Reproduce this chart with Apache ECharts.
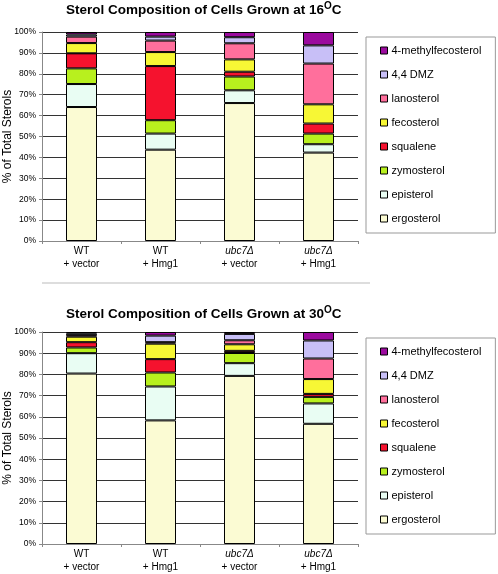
<!DOCTYPE html>
<html>
<head>
<meta charset="utf-8">
<script src="https://cdn.jsdelivr.net/npm/echarts@6/dist/echarts.min.js"></script>
<style>
html,body{margin:0;padding:0;background:#fff;}
#chart{width:498px;height:574px;}
</style>
</head>
<body>
<div id="chart"></div>
<script>
// Categories
var categories = ['WT\n+ vector', 'WT\n+ Hmg1', 'ubc7\u0394\n+ vector', 'ubc7\u0394\n+ Hmg1'];
// Components (stack order bottom -> top)
var components = ['ergosterol', 'episterol', 'zymosterol', 'squalene', 'fecosterol', 'lanosterol', '4,4 DMZ', '4-methylfecosterol'];
var yTicks = [0, 10, 20, 30, 40, 50, 60, 70, 80, 90, 100];

// 16 °C values (% of total sterols)
var ergosterol16 = [64.1, 43.7, 66.0, 42.3];
var episterol16 = [11.0, 7.7, 6.1, 4.0];
var zymosterol16 = [7.5, 6.4, 6.6, 5.1];
var squalene16 = [7.2, 25.9, 2.3, 4.8];
var fecosterol16 = [4.9, 6.7, 5.9, 9.2];
var lanosterol16 = [3.1, 5.5, 7.7, 19.5];
var dmz16 = [1.0, 1.9, 2.9, 8.7];
var methylfecosterol16 = [1.2, 2.2, 2.5, 6.4];

// 30 °C values (% of total sterols)
var ergosterol30 = [80.4, 58.3, 79.3, 56.7];
var episterol30 = [9.6, 16.0, 6.0, 9.6];
var zymosterol30 = [2.7, 6.6, 4.8, 3.1];
var squalene30 = [2.5, 6.3, 1.0, 1.4];
var fecosterol30 = [2.6, 7.3, 3.1, 7.0];
var lanosterol30 = [0.7, 0.7, 1.9, 9.7];
var dmz30 = [0.9, 3.1, 3.0, 8.5];
var methylfecosterol30 = [0.6, 1.7, 0.9, 4.0];

var values16 = [ergosterol16, episterol16, zymosterol16, squalene16, fecosterol16, lanosterol16, dmz16, methylfecosterol16];
var values30 = [ergosterol30, episterol30, zymosterol30, squalene30, fecosterol30, lanosterol30, dmz30, methylfecosterol30];

var colors = ['#FBFBD3', '#E9FDF3', '#B8F01E', '#F5122E', '#F7F735', '#FF6F9C', '#C8BFF7', '#9B0A9E'];
var FONT = 'Liberation Sans, Arial, sans-serif';

var chart = echarts.init(document.getElementById('chart'), null, {renderer: 'canvas'});

function xAxisDef(gi) {
  return {
    type: 'category', gridIndex: gi, data: categories,
    axisLine: {lineStyle: {color: '#888', width: 1}},
    axisTick: {show: true, length: 3, lineStyle: {color: '#888'}},
    axisLabel: {
      margin: 4, color: '#000', fontFamily: FONT, fontSize: 10,
      formatter: function (v) {
        var p = v.split('\n');
        var first = p[0].indexOf('ubc7') === 0 ? '{i|' + p[0] + '}' : '{n|' + p[0] + '}';
        return first + '\n{n|' + p[1] + '}';
      },
      rich: {
        n: {fontSize: 10, fontFamily: FONT, color: '#000', lineHeight: 13},
        i: {fontSize: 10, fontFamily: FONT, fontStyle: 'italic', color: '#000', lineHeight: 13}
      }
    }
  };
}
function yAxisDef(gi) {
  return {
    type: 'value', gridIndex: gi, min: yTicks[0], max: yTicks[yTicks.length - 1], interval: 10,
    name: '% of Total Sterols', nameLocation: 'middle', nameGap: 28, nameMoveOverlap: false,
    nameTextStyle: {fontSize: 12, fontFamily: FONT, color: '#000'},
    axisLine: {show: true, lineStyle: {color: '#888', width: 1}},
    axisTick: {show: true, length: 3, lineStyle: {color: '#888'}},
    axisLabel: {formatter: '{value}%', fontSize: 8.5, fontFamily: FONT, color: '#000', margin: 6},
    splitLine: {show: true, lineStyle: {color: '#333', width: 1}}
  };
}

var series = [];
[values16, values30].forEach(function (vals, gi) {
  components.forEach(function (name, k) {
    series.push({
      name: name, type: 'bar', stack: 'g' + gi, xAxisIndex: gi, yAxisIndex: gi,
      barWidth: 31, data: vals[k],
      itemStyle: {color: colors[k], borderColor: '#000', borderWidth: 1},
      emphasis: {disabled: true}
    });
  });
});

var legendOrder = components.slice().reverse();
function legendDef(top) {
  return {
    data: legendOrder, orient: 'vertical', left: 366, top: top,
    padding: [8, 14, 9, 14], itemGap: 13, itemWidth: 7, itemHeight: 7,
    borderColor: '#999', borderWidth: 1, icon: 'rect', selectedMode: false,
    itemStyle: {borderColor: '#000', borderWidth: 1},
    textStyle: {fontSize: 11, fontFamily: FONT, color: '#000', padding: [0, 0, 0, -1]}
  };
}
function titleDef(temp, top) {
  return {
    text: '{a|Sterol Composition of Cells Grown at ' + temp + '}{s|O}{a|C}',
    left: 66, top: top, padding: 0,
    textStyle: {
      rich: {
        a: {fontSize: 13.5, fontWeight: 'bold', fontFamily: FONT, color: '#000', lineHeight: 16},
        s: {fontSize: 10, fontWeight: 'bold', fontFamily: FONT, color: '#000', lineHeight: 16, padding: [0, 0, 7, 0]}
      }
    }
  };
}

chart.setOption({
  animation: false,
  backgroundColor: '#fff',
  title: [titleDef('16', 2), titleDef('30', 306)],
  grid: [
    {left: 42, right: 140, top: 32, height: 209, outerBoundsMode: 'none', containLabel: false},
    {left: 42, right: 140, top: 332, height: 212, outerBoundsMode: 'none', containLabel: false}
  ],
  xAxis: [xAxisDef(0), xAxisDef(1)],
  yAxis: [yAxisDef(0), yAxisDef(1)],
  legend: [legendDef(37), legendDef(338)],
  graphic: [{type: 'line', shape: {x1: 42, y1: 283, x2: 370, y2: 283}, style: {stroke: '#bbb', lineWidth: 1}}],
  series: series
});
</script>
</body>
</html>
